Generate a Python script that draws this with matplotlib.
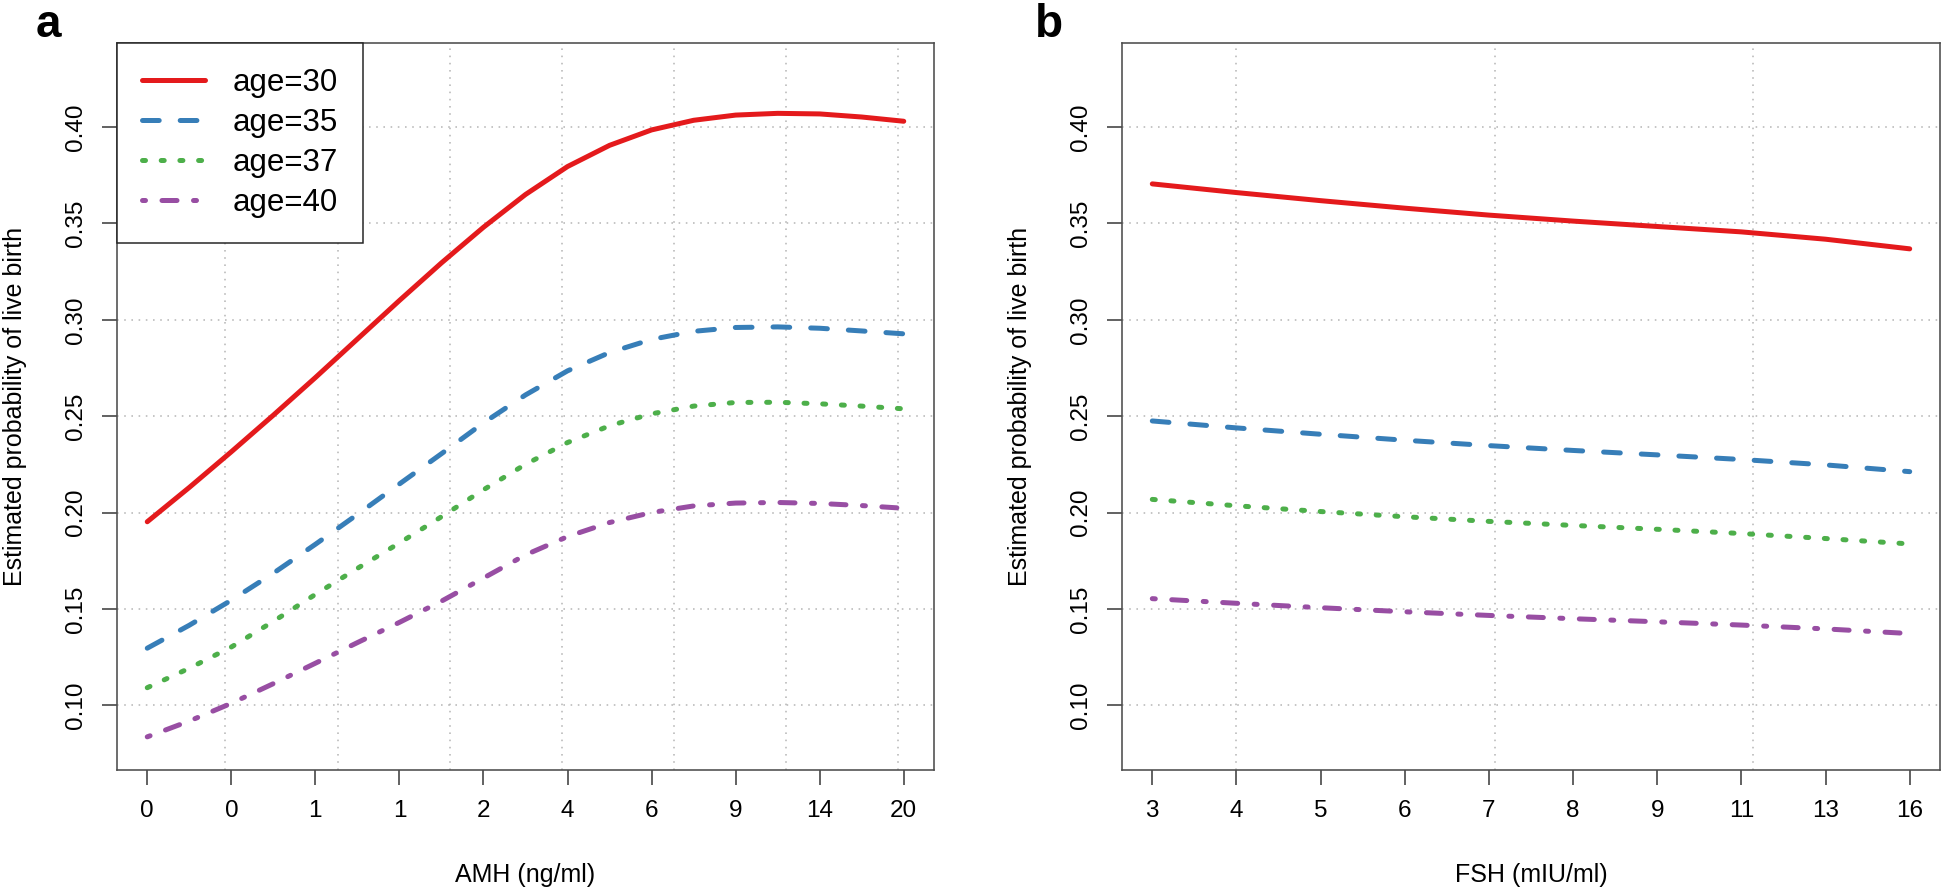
import matplotlib
matplotlib.use("Agg")
import matplotlib.pyplot as plt

plt.rcParams['font.family'] = ['Liberation Sans', 'DejaVu Sans']
plt.rcParams['lines.scale_dashes'] = False

# ---------------- data ----------------
# Panel a: AMH (positions are quantile slots 1..10)
amh_ticklabels = ['0', '0', '1', '1', '2', '4', '6', '9', '14', '20']
amh_pos = [1.0, 1.5, 2.0, 2.5, 3.0, 3.5, 4.0, 4.5, 5.0, 5.5,
           6.0, 6.5, 7.0, 7.5, 8.0, 8.5, 9.0, 9.5, 10.0]
amh_age30 = [0.1952, 0.2130, 0.2315, 0.2505, 0.2700, 0.2900, 0.3100, 0.3295, 0.3480, 0.3650,
             0.3795, 0.3905, 0.3985, 0.4035, 0.4062, 0.4071, 0.4068, 0.4052, 0.4030]
amh_age35 = [0.1296, 0.1415, 0.1545, 0.1685, 0.1835, 0.1990, 0.2148, 0.2305, 0.2465, 0.2610,
             0.2735, 0.2830, 0.2898, 0.2940, 0.2960, 0.2963, 0.2956, 0.2942, 0.2927]
amh_age37 = [0.1091, 0.1192, 0.1302, 0.1435, 0.1575, 0.1710, 0.1842, 0.1978, 0.2118, 0.2250,
             0.2363, 0.2450, 0.2512, 0.2552, 0.2571, 0.2572, 0.2564, 0.2552, 0.2538]
amh_age40 = [0.0836, 0.0918, 0.1010, 0.1112, 0.1218, 0.1325, 0.1430, 0.1540, 0.1660, 0.1780,
             0.1875, 0.1948, 0.2000, 0.2034, 0.2049, 0.2052, 0.2047, 0.2036, 0.2022]

# Panel b: FSH
fsh_ticklabels = ['3', '4', '5', '6', '7', '8', '9', '11', '13', '16']
fsh_pos = [1, 2, 3, 4, 5, 6, 7, 8, 9, 10]
fsh_age30 = [0.3705, 0.3660, 0.3618, 0.3579, 0.3543, 0.3512, 0.3484, 0.3456, 0.3418, 0.3368]
fsh_age35 = [0.2475, 0.2439, 0.2406, 0.2375, 0.2347, 0.2322, 0.2299, 0.2275, 0.2247, 0.2212]
fsh_age37 = [0.2068, 0.2035, 0.2005, 0.1978, 0.1954, 0.1933, 0.1913, 0.1891, 0.1865, 0.1837]
fsh_age40 = [0.1553, 0.1529, 0.1506, 0.1485, 0.1466, 0.1449, 0.1433, 0.1416, 0.1396, 0.1372]

series_labels = ['age=30', 'age=35', 'age=37', 'age=40']
y_ticks = [0.10, 0.15, 0.20, 0.25, 0.30, 0.35, 0.40]
y_ticklabels = ['0.10', '0.15', '0.20', '0.25', '0.30', '0.35', '0.40']
vgrid_a = [1.93, 3.27, 4.60, 5.93, 7.27, 8.60, 9.93]
vgrid_b = [2.0, 5.07, 8.14]

# ---------------- styling ----------------
colors = ['#E41A1C', '#377EB8', '#4DAF4A', '#984EA3']
PX = 0.72  # points per pixel at dpi 100
LW = 5 * PX
dash_styles = [
    None,
    (0, (16.7 * PX, 21 * PX)),
    (0, (3 * PX, 15.7 * PX)),
    (0, (3 * PX, 16.5 * PX, 15 * PX, 16.5 * PX)),
]
FS = 17.5
GRID_KW = dict(color='#b4b4b4', lw=1.5 * PX, linestyle=(0, (1.6 * PX, 5.6 * PX)), zorder=0)

fig = plt.figure(figsize=(19.46, 8.93), dpi=100)
W, H = 1946, 893
ax_a = fig.add_axes([117 / W, (H - 770) / H, 817 / W, 727 / H])
ax_b = fig.add_axes([1122 / W, (H - 770) / H, 818 / W, 727 / H])


def style_axes(ax, ticklabels, xlabel, vgrid):
    ax.set_xlim(0.64, 10.36)
    ax.set_ylim(0.0664, 0.4436)
    ax.set_xticks(range(1, 11))
    ax.set_xticklabels(ticklabels, fontsize=FS)
    ax.set_yticks(y_ticks)
    ax.set_yticklabels(y_ticklabels, fontsize=FS, rotation=90, va='center')
    ax.tick_params(axis='both', direction='out', length=15 * PX, width=1.5 * PX,
                   color='#333333')
    ax.tick_params(axis='x', pad=11)
    ax.tick_params(axis='y', pad=11)
    for s in ax.spines.values():
        s.set_color('#4d4d4d')
        s.set_linewidth(1.6 * PX)
    for yv in y_ticks:
        ax.axhline(yv, **GRID_KW)
    for xv in vgrid:
        ax.axvline(xv, **GRID_KW)
    ax.text(0.5, (770 - 875) / 727, xlabel, transform=ax.transAxes,
            ha='center', va='center', fontsize=18)
    ax.text(-102 / 817, 0.5, 'Estimated probability of live birth', transform=ax.transAxes,
            ha='center', va='center', rotation=90, fontsize=18)


def draw_lines(ax, x, ys):
    handles = []
    for y, c, ls, lab in zip(ys, colors, dash_styles, series_labels):
        kw = dict(color=c, lw=LW, label=lab, solid_capstyle='round',
                  solid_joinstyle='round', dash_capstyle='round',
                  dash_joinstyle='round', zorder=3)
        if ls is not None:
            kw['linestyle'] = ls
        h, = ax.plot(x, y, **kw)
        handles.append(h)
    return handles


style_axes(ax_a, amh_ticklabels, 'AMH (ng/ml)', vgrid_a)
style_axes(ax_b, fsh_ticklabels, 'FSH (mIU/ml)', vgrid_b)

handles = draw_lines(ax_a, amh_pos, [amh_age30, amh_age35, amh_age37, amh_age40])
draw_lines(ax_b, fsh_pos, [fsh_age30, fsh_age35, fsh_age37, fsh_age40])

leg = ax_a.legend(handles=handles, loc='upper left', bbox_to_anchor=(0, 1),
                  borderaxespad=0, frameon=True, fancybox=False, framealpha=1,
                  edgecolor='#222222', fontsize=22.5, handlelength=2.0,
                  handletextpad=0.9, labelspacing=0.32, borderpad=0.8)
leg.get_frame().set_linewidth(1.5 * PX)
leg.set_zorder(5)

fig.text(36 / W, 1 - 37 / H, 'a', fontsize=33, fontweight='bold', ha='left', va='baseline')
fig.text(1035 / W, 1 - 37 / H, 'b', fontsize=33, fontweight='bold', ha='left', va='baseline')

fig.savefig('out.png', dpi=100)
